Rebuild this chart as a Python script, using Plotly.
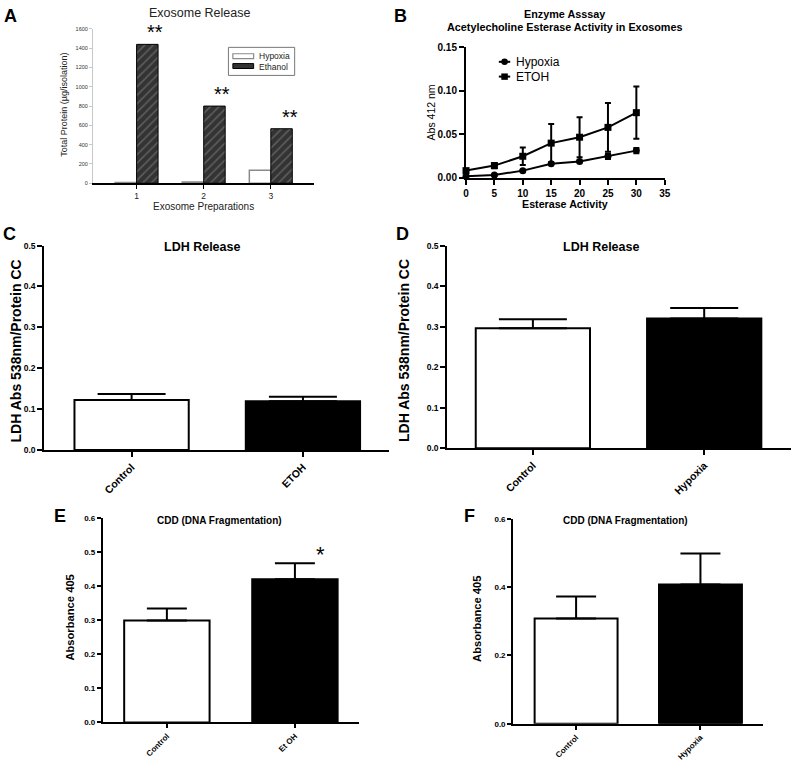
import plotly.graph_objects as go

W, H = 797, 774
FONT = "Liberation Sans, Arial, sans-serif"

# ---------------- data ----------------
# Panel A: Exosome release
prep_labels = ["1", "2", "3"]
hypoxia_protein = [8, 12, 135]
ethanol_protein = [1440, 800, 565]
a_yticks = [0, 200, 400, 600, 800, 1000, 1200, 1400, 1600]
a_legend = ["Hypoxia", "Ethanol"]

# Panel B: Acetylcholine esterase activity
esterase_time = [0, 5, 10, 15, 20, 25, 30]
hypoxia_abs = [0.0015, 0.003, 0.008, 0.016, 0.0185, 0.0245, 0.031]
hypoxia_err = [0.001, 0.001, 0.001, 0.001, 0.001, 0.003, 0.003]
etoh_abs = [0.008, 0.0138, 0.0245, 0.0396, 0.0464, 0.0577, 0.0746]
etoh_err = [0.002, 0.003, 0.010, 0.022, 0.023, 0.028, 0.030]
b_legend = ["Hypoxia", "ETOH"]

# Panel C: LDH release (ethanol)
c_groups = ["Control", "ETOH"]
c_values = [0.122, 0.119]
c_err = [0.015, 0.011]

# Panel D: LDH release (hypoxia)
d_groups = ["Control", "Hypoxia"]
d_values = [0.296, 0.320]
d_err = [0.022, 0.026]

# Panel E: CDD (ethanol)
e_groups = ["Control", "Et OH"]
e_values = [0.299, 0.420]
e_err = [0.035, 0.047]

# Panel F: CDD (hypoxia)
f_groups = ["Control", "Hypoxia"]
f_values = [0.308, 0.408]
f_err = [0.065, 0.091]


def px(x):
    return x / W


def py(y):
    return 1 - y / H


fig = go.Figure()

# ---------- Panel A ----------
fig.add_trace(go.Bar(
    x=list(range(len(prep_labels))), y=hypoxia_protein, name=a_legend[0],
    xaxis="x", yaxis="y", offset=-0.32, width=0.32,
    marker=dict(color="white", line=dict(color="#8a8a8a", width=1.5)),
    showlegend=False,
))
fig.add_trace(go.Bar(
    x=list(range(len(prep_labels))), y=ethanol_protein, name=a_legend[1],
    xaxis="x", yaxis="y", offset=0, width=0.32,
    marker=dict(color="#333333", line=dict(color="black", width=1),
                pattern=dict(shape="/", bgcolor="#333333", fgcolor="#8c8c8c",
                             size=6, solidity=0.25)),
    showlegend=False,
))

# ---------- Panel B ----------
fig.add_trace(go.Scatter(
    x=esterase_time, y=hypoxia_abs, name=b_legend[0], mode="lines+markers",
    xaxis="x2", yaxis="y2",
    line=dict(color="black", width=2),
    marker=dict(symbol="circle", size=7, color="black"),
    error_y=dict(type="data", array=hypoxia_err, color="black", thickness=2, width=3),
    showlegend=False, cliponaxis=False,
))
fig.add_trace(go.Scatter(
    x=esterase_time, y=etoh_abs, name=b_legend[1], mode="lines+markers",
    xaxis="x2", yaxis="y2",
    line=dict(color="black", width=2),
    marker=dict(symbol="square", size=7, color="black"),
    error_y=dict(type="data", array=etoh_err, color="black", thickness=2, width=3),
    showlegend=False, cliponaxis=False,
))

# ---------- Panels C-F ----------
bar_panels = [
    ("x3", "y3", c_groups, c_values, c_err, 34),
    ("x4", "y4", d_groups, d_values, d_err, 34),
    ("x5", "y5", e_groups, e_values, e_err, 20),
    ("x6", "y6", f_groups, f_values, f_err, 20),
]
for xa, ya, cats, vals, errs, cap in bar_panels:
    fig.add_trace(go.Bar(
        x=cats, y=vals, xaxis=xa, yaxis=ya, width=0.667,
        marker=dict(color=["white", "black"], line=dict(color="black", width=2)),
        error_y=dict(type="data", symmetric=False, array=errs,
                     arrayminus=[0] * len(errs), color="black", thickness=2, width=cap),
        showlegend=False,
    ))

axis_common = dict(showgrid=False, zeroline=False, showline=True, linecolor="black",
                   linewidth=2, ticks="outside", tickcolor="black", tickwidth=2,
                   fixedrange=True)


def bold(size):
    return dict(family=FONT, size=size, color="black", weight="bold")


layout = dict(
    width=W, height=H, margin=dict(l=0, r=0, t=0, b=0),
    paper_bgcolor="white", plot_bgcolor="rgba(0,0,0,0)",
    barmode="overlay", showlegend=False,
    font=dict(family=FONT, color="black"),
    # Panel A
    xaxis=dict(domain=[px(91), px(315)], anchor="y",
               range=[-0.65, 2.65], tickvals=list(range(len(prep_labels))),
               ticktext=prep_labels, showgrid=False, zeroline=False, showline=True,
               linecolor="black", linewidth=2, ticks="outside", ticklen=4,
               tickcolor="black", tickwidth=1,
               tickfont=dict(family=FONT, size=8.5, color="#222")),
    yaxis=dict(domain=[py(180), py(23.3)], anchor="x", range=[0, 1600],
               tickvals=a_yticks, showgrid=False, zeroline=False, showline=True,
               linecolor="#c8c8c8", linewidth=1, ticks="outside", ticklen=3,
               tickcolor="#c8c8c8", tickfont=dict(family=FONT, size=5.5, color="#333")),
    # Panel B
    xaxis2=dict(domain=[px(468.3), px(669.3)], anchor="y2", range=[0, 35],
                tickvals=[0, 5, 10, 15, 20, 25, 30, 35], ticklen=5,
                tickfont=bold(10), **axis_common),
    yaxis2=dict(domain=[py(174.3), py(41.7)], anchor="x2", range=[0, 0.15],
                tickvals=[0, 0.05, 0.10, 0.15], tickformat=".2f", ticklen=5,
                tickfont=bold(10), **axis_common),
    # Panel C
    xaxis3=dict(domain=[px(41.7), px(390)], anchor="y3", type="category",
                range=[-0.51, 1.5], tickangle=-45, ticklen=5,
                tickfont=bold(10.5), **axis_common),
    yaxis3=dict(domain=[py(451), py(243.3)], anchor="x3", range=[0, 0.5],
                tickvals=[0, 0.1, 0.2, 0.3, 0.4, 0.5], tickformat=".1f", ticklen=5,
                tickfont=bold(8.5), **axis_common),
    # Panel D
    xaxis4=dict(domain=[px(449.3), px(796.7)], anchor="y4", type="category",
                range=[-0.5, 1.505], tickangle=-45, ticklen=5,
                tickfont=bold(10.5), **axis_common),
    yaxis4=dict(domain=[py(449.3), py(243.3)], anchor="x4", range=[0, 0.5],
                tickvals=[0, 0.1, 0.2, 0.3, 0.4, 0.5], tickformat=".1f", ticklen=5,
                tickfont=bold(8.5), **axis_common),
    # Panel E
    xaxis5=dict(domain=[px(101), px(360)], anchor="y5", type="category",
                range=[-0.5, 1.5], tickangle=-45, ticklen=4,
                tickfont=bold(8), **axis_common),
    yaxis5=dict(domain=[py(727.7), py(520)], anchor="x5", range=[0, 0.6],
                tickvals=[0, 0.1, 0.2, 0.3, 0.4, 0.5, 0.6], tickformat=".1f", ticklen=4,
                tickfont=bold(8), **axis_common),
    # Panel F
    xaxis6=dict(domain=[px(516), px(768.3)], anchor="y6", type="category",
                range=[-0.506, 1.5], tickangle=-45, ticklen=4,
                tickfont=bold(8), **axis_common),
    yaxis6=dict(domain=[py(729), py(521)], anchor="x6", range=[0, 0.6],
                tickvals=[0, 0.2, 0.4, 0.6], tickformat=".1f", ticklen=4,
                tickfont=bold(8), **axis_common),
)
fig.update_layout(**layout)

ann = []
shapes = []


def text(x, y, s, size, weight="normal", angle=0, color="black", xanchor="center"):
    ann.append(dict(x=px(x), y=py(y), xref="paper", yref="paper", text=s,
                    showarrow=False, textangle=angle, xanchor=xanchor, yanchor="middle",
                    font=dict(family=FONT, size=size, color=color, weight=weight)))


def rect(x0, y0, x1, y1, fill, line, lw=1):
    shapes.append(dict(type="rect", xref="paper", yref="paper",
                       x0=px(x0), x1=px(x1), y0=py(y1), y1=py(y0),
                       fillcolor=fill, line=dict(color=line, width=lw)))


# panel letters
text(8, 10, "A", 18, "bold")
text(402, 10, "B", 18, "bold")
text(7, 232, "C", 18, "bold")
text(404, 232, "D", 18, "bold")
text(58, 518, "E", 18, "bold")
text(472, 518, "F", 18, "bold")

# titles
text(199, 7, "Exosome Release", 12.5, color="#222")
text(568, 8, "Enzyme Asssay", 10.8, "bold")
text(568, 21, "Acetylecholine Esterase Activity in Exosomes", 10.8, "bold")
text(201, 245, "LDH Release", 12.5, "bold")
text(605, 245, "LDH Release", 12.5, "bold")
text(219, 523, "CDD (DNA Fragmentation)", 10, "bold")
text(630, 523, "CDD (DNA Fragmentation)", 10, "bold")

# axis titles
text(62, 100, "Total Protein (µg/isolation)", 9, angle=-90, color="#222")
text(203, 204, "Exosome Preparations", 10, color="#222")
text(433, 108, "Abs 412 nm", 10.5, angle=-90)
text(568, 201, "Esterase Activity", 10.7, "bold")
text(13, 350, "LDH Abs 538nm/Protein CC", 14, "bold", angle=-90)
text(405, 350, "LDH Abs 538nm/Protein CC", 14, "bold", angle=-90)
text(68, 621, "Absorbance 405", 11.2, "bold", angle=-90)
text(480, 623, "Absorbance 405", 11.2, "bold", angle=-90)

# Panel A legend (boxed)
rect(228, 42, 295, 70.5, "white", "#777", 1)
rect(232.5, 48.5, 253.5, 53.5, "white", "#8a8a8a", 1.2)
rect(232.5, 58.5, 253.5, 63.5, "#333333", "black", 1)
text(257, 51, a_legend[0], 8.5, color="#222", xanchor="left")
text(257, 61.5, a_legend[1], 8.5, color="#222", xanchor="left")

# Panel B legend
for yy in (56.7, 71.7):
    shapes.append(dict(type="line", xref="paper", yref="paper",
                       x0=px(501.5), x1=px(513), y0=py(yy), y1=py(yy),
                       line=dict(color="black", width=2)))
shapes.append(dict(type="circle", xref="paper", yref="paper",
                   x0=px(504), x1=px(510.6), y0=py(60), y1=py(53.4),
                   fillcolor="black", line=dict(color="black", width=0)))
rect(504, 68.5, 510.6, 75, "black", "black", 0)
text(516.5, 56.7, b_legend[0], 12, xanchor="left")
text(516.5, 71.7, b_legend[1], 12, xanchor="left")

# significance stars
for i in range(len(prep_labels)):
    ann.append(dict(x=i + 0.16, y=ethanol_protein[i], xref="x", yref="y", text="**",
                    showarrow=False, xanchor="center", yanchor="bottom",
                    xshift=8, yshift=-1,
                    font=dict(family=FONT, size=20, color="black")))
ann.append(dict(x=e_groups[1], y=e_values[1] + e_err[1], xref="x5", yref="y5", text="*",
                showarrow=False, xanchor="center", yanchor="bottom", xshift=26, yshift=-6,
                font=dict(family=FONT, size=22, color="black")))

fig.update_layout(annotations=ann, shapes=shapes)
fig.write_html("out.html", config={"displayModeBar": False, "staticPlot": True},
               post_script="document.body.style.margin='0px';")
